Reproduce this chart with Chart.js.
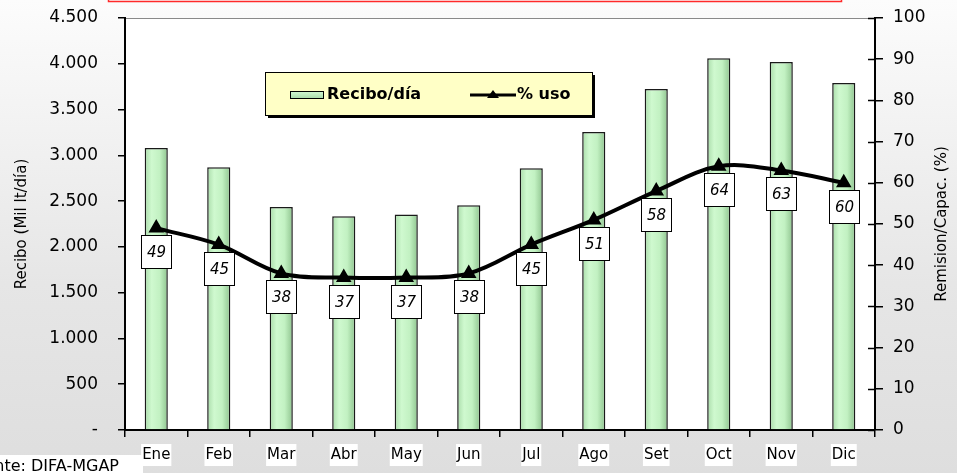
<!DOCTYPE html>
<html>
<head>
<meta charset="utf-8">
<script src="https://cdn.jsdelivr.net/npm/chart.js@4.4.1/dist/chart.umd.min.js"></script>
<style>
  html, body { margin: 0; padding: 0; background: #e4e4e4; }
  #wrap { width: 957px; height: 473px; }
</style>
</head>
<body>
<div id="wrap"><canvas id="chart" width="957" height="473"></canvas></div>
<script>
// datos
const months = ['Ene', 'Feb', 'Mar', 'Abr', 'May', 'Jun', 'Jul', 'Ago', 'Set', 'Oct', 'Nov', 'Dic']
const recibo = [3080, 2870, 2435, 2335, 2355, 2455, 2860, 3255, 3725, 4060, 4020, 3790]
const uso = [49, 45, 38, 37, 37, 38, 45, 51, 58, 64, 63, 60]
const leftTicks = [0, 500, 1000, 1500, 2000, 2500, 3000, 3500, 4000, 4500]
const rightTicks = [0, 10, 20, 30, 40, 50, 60, 70, 80, 90, 100]

const FONT = '"DejaVu Sans", Verdana, sans-serif'
const BAR_W = 23

const fmtMiles = v => v === 0 ? '-' : v.toLocaleString('de-DE')

const barFill = ctx => {
  const x = ctx.chart.scales.x ? ctx.chart.scales.x.getPixelForValue(ctx.dataIndex) : NaN
  if (!Number.isFinite(x)) return '#c4f2c4'
  const g = ctx.chart.ctx.createLinearGradient(x - BAR_W / 2, 0, x + BAR_W / 2, 0)
  g.addColorStop(0, '#a9dca9')
  g.addColorStop(0.3, '#cff9cf')
  g.addColorStop(0.65, '#c2f1c2')
  g.addColorStop(1, '#8fc48f')
  return g
}

const fitY = w => s => {
  s.width = w
  s.paddingTop = 0
  s.paddingBottom = 0
}

const decor = {
  id: 'decor',
  beforeDraw(chart) {
    const { ctx, chartArea: a, width, height } = chart
    ctx.save()
    const g = ctx.createLinearGradient(0, 0, 0, height)
    g.addColorStop(0, '#fcfcfc')
    g.addColorStop(0.6, '#e6e6e6')
    g.addColorStop(1, '#dedede')
    ctx.fillStyle = g
    ctx.fillRect(0, 0, width, height)
    ctx.fillStyle = '#ffffff'
    ctx.fillRect(a.left, a.top, a.right - a.left, a.bottom - a.top)
    // marco rojo del titulo (cortado arriba)
    ctx.strokeStyle = '#ff2a2a'
    ctx.lineWidth = 1.5
    ctx.strokeRect(108.5, -10, 733, 11.5)
    // linea superior del area
    ctx.strokeStyle = '#8a8a8a'
    ctx.lineWidth = 1
    ctx.beginPath()
    ctx.moveTo(a.left, a.top + 0.5)
    ctx.lineTo(a.right, a.top + 0.5)
    ctx.stroke()
    ctx.restore()
  },
  afterDraw(chart) {
    const { ctx, chartArea: a } = chart
    const y1 = chart.scales.y1
    ctx.save()
    // ticks cruzados del eje derecho (parte interior)
    ctx.strokeStyle = '#000'
    ctx.lineWidth = 1.5
    rightTicks.forEach(t => {
      const y = Math.round(y1.getPixelForValue(t)) + 0.5
      ctx.beginPath()
      ctx.moveTo(a.right - 7, y)
      ctx.lineTo(a.right, y)
      ctx.stroke()
    })
    // etiquetas de datos
    const meta = chart.getDatasetMeta(1)
    ctx.font = 'italic 15px ' + FONT
    ctx.textAlign = 'center'
    ctx.textBaseline = 'middle'
    meta.data.forEach((pt, i) => {
      const w = 30, h = 33
      const x = Math.round(pt.x - w / 2) + 0.5
      const y = Math.round(pt.y + 7) + 0.5
      ctx.fillStyle = '#fff'
      ctx.fillRect(x, y, w, h)
      ctx.strokeStyle = '#000'
      ctx.lineWidth = 1
      ctx.strokeRect(x, y, w, h)
      ctx.fillStyle = '#000'
      ctx.fillText(String(uso[i]), x + w / 2, y + h / 2 + 1)
    })
    // titulos de ejes
    ctx.font = '15px ' + FONT
    ctx.fillStyle = '#000'
    const midY = (a.top + a.bottom) / 2
    ;[[22, 'Recibo (Mil lt/día)'], [942, 'Remision/Capac. (%)']].forEach(([x, txt]) => {
      ctx.save()
      ctx.translate(x, midY)
      ctx.rotate(-Math.PI / 2)
      ctx.fillText(txt, 0, 0)
      ctx.restore()
    })
    // leyenda
    const lx = 265, ly = 72, lw = 327, lh = 43
    ctx.fillStyle = '#000'
    ctx.fillRect(lx + 3, ly + 3, lw, lh)
    ctx.fillStyle = '#ffffc6'
    ctx.fillRect(lx, ly, lw, lh)
    ctx.strokeStyle = '#000'
    ctx.lineWidth = 1
    ctx.strokeRect(lx + 0.5, ly + 0.5, lw, lh)
    const sw = ctx.createLinearGradient(0, 91, 0, 99)
    sw.addColorStop(0, '#d4fad4')
    sw.addColorStop(1, '#a6d8a6')
    ctx.fillStyle = sw
    ctx.fillRect(290.5, 91.5, 33, 7)
    ctx.strokeRect(290.5, 91.5, 33, 7)
    ctx.fillStyle = '#000'
    ctx.font = 'bold 16px ' + FONT
    ctx.textAlign = 'left'
    ctx.fillText('Recibo/día', 327, 95)
    ctx.lineWidth = 3
    ctx.beginPath()
    ctx.moveTo(470, 95)
    ctx.lineTo(516, 95)
    ctx.stroke()
    ctx.beginPath()
    ctx.moveTo(493, 90)
    ctx.lineTo(499, 98)
    ctx.lineTo(487, 98)
    ctx.closePath()
    ctx.fill()
    ctx.fillText('% uso', 517, 95)
    // fuente (cortada a la izquierda)
    ctx.fillStyle = '#fff'
    ctx.fillRect(0, 455, 143, 18)
    ctx.fillStyle = '#000'
    ctx.font = '16px ' + FONT
    ctx.textBaseline = 'alphabetic'
    ctx.fillText('Fuente: DIFA-MGAP', -34, 471)
    ctx.restore()
  }
}

new Chart(document.getElementById('chart'), {
  data: {
    labels: months,
    datasets: [
      {
        type: 'bar', label: 'Recibo/día', data: recibo, yAxisID: 'y', order: 2,
        backgroundColor: barFill, borderColor: '#1a1a1a', borderWidth: 1.5,
        barPercentage: 0.37, categoryPercentage: 1
      },
      {
        type: 'line', label: '% uso', data: uso, yAxisID: 'y1', order: 1,
        borderColor: '#000', borderWidth: 4, tension: 0.35, cubicInterpolationMode: 'default',
        pointStyle: 'triangle', pointRadius: 5, pointBackgroundColor: '#000', pointBorderColor: '#000'
      }
    ]
  },
  options: {
    responsive: false,
    animation: false,
    layout: { padding: { top: 18, left: 0, right: 0, bottom: 0 } },
    plugins: { legend: { display: false }, tooltip: { enabled: false } },
    scales: {
      x: {
        offset: true,
        grid: { display: true, drawOnChartArea: false, offset: true, tickLength: 7, color: '#000', lineWidth: 1.5 },
        border: { color: '#000', width: 2 },
        ticks: {
          font: { family: FONT, size: 15 }, color: '#000', padding: 9,
          showLabelBackdrop: true, backdropColor: '#fff', backdropPadding: { x: 1, y: 2 }
        },
        afterFit: s => { s.height = 43; s.paddingLeft = 0; s.paddingRight = 0 }
      },
      y: {
        position: 'left', min: 0, max: 4500,
        afterBuildTicks: s => { s.ticks = leftTicks.map(v => ({ value: v })) },
        grid: { drawOnChartArea: false, tickLength: 7, color: '#000', lineWidth: 1.5 },
        border: { color: '#000', width: 2 },
        ticks: { font: { family: FONT, size: 17 }, color: '#000', padding: 20, callback: v => fmtMiles(v) },
        afterFit: fitY(125)
      },
      y1: {
        position: 'right', min: 0, max: 100,
        afterBuildTicks: s => { s.ticks = rightTicks.map(v => ({ value: v })) },
        grid: { drawOnChartArea: false, tickLength: 8, color: '#000', lineWidth: 1.5 },
        border: { color: '#000', width: 2 },
        ticks: { font: { family: FONT, size: 17 }, color: '#000', padding: 10 },
        afterFit: fitY(82)
      }
    }
  },
  plugins: [decor]
})
</script>
</body>
</html>
